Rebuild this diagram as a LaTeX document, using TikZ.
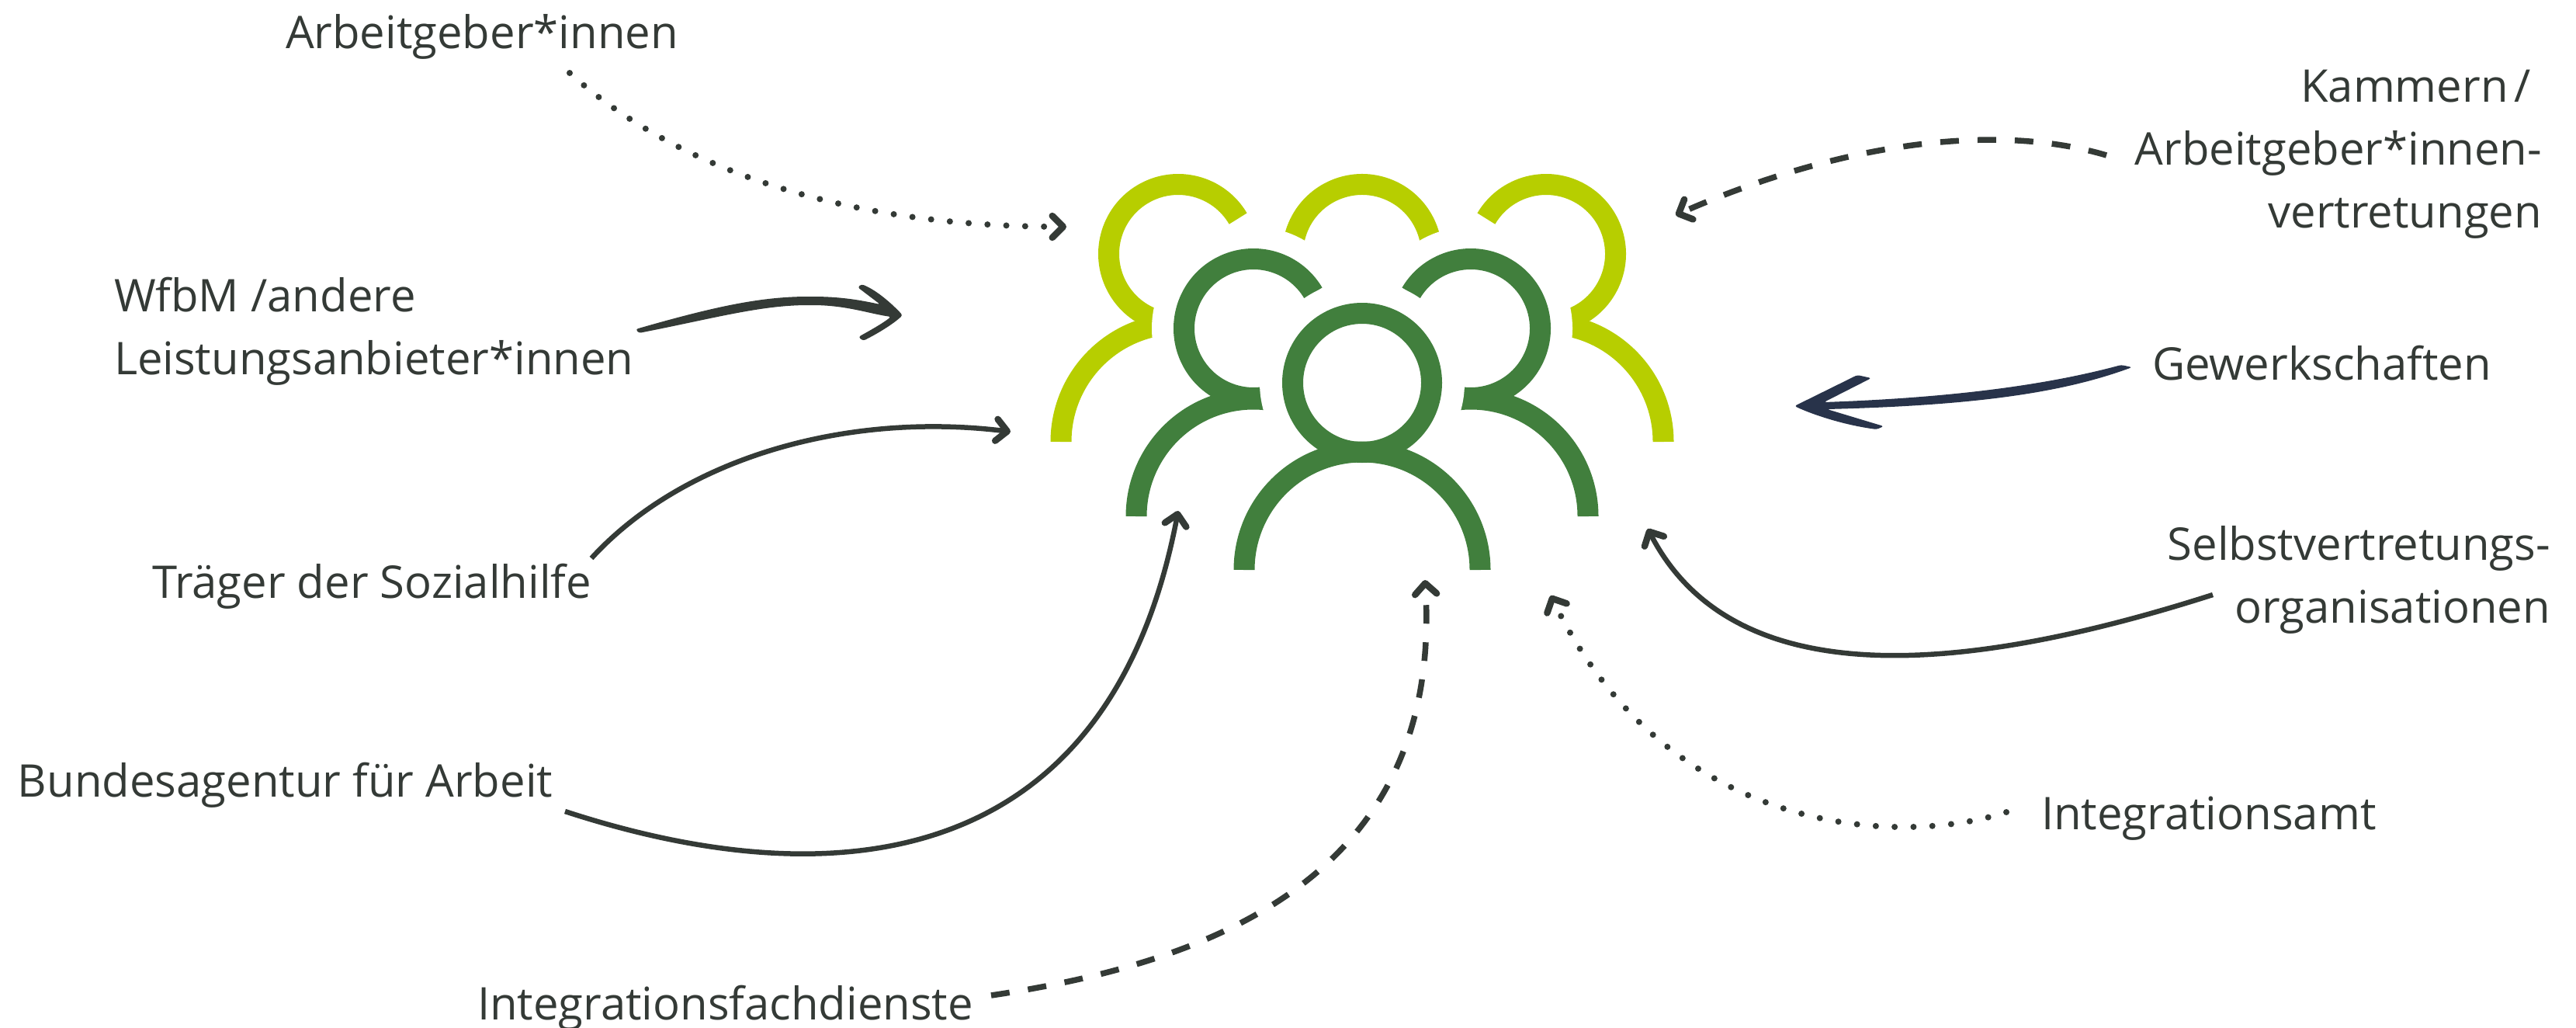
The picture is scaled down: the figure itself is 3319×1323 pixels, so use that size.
\documentclass[tikz,border=0pt]{standalone}
\usepackage{fontspec}
\setmainfont{Open Sans}
\usetikzlibrary{arrows.meta}
\definecolor{lime}{HTML}{B7CE00}
\definecolor{leaf}{HTML}{417F3D}
\definecolor{ink}{HTML}{343A36}
\definecolor{navy}{HTML}{28334A}
\tikzset{
  lbl/.style={text=ink,font=\fontsize{58}{81}\selectfont,inner sep=0pt,outer sep=0pt},
  con/.style={draw=ink,line width=6.5pt,-{Straight Barb[length=14pt,width=28pt,line width=8.5pt,round=false]}},
  dotcon/.style={con,line cap=round,dash pattern=on 0pt off 24.3pt,line width=8pt},
  dashcon/.style={con,dash pattern=on 24pt off 24pt,line width=7.5pt},
  halo/.style={fill=white,draw=none},
  ring/.style={line width=27pt}
}
\begin{document}
\begin{tikzpicture}[x=1pt,y=-1pt]
\useasboundingbox (0,0) rectangle (3319,1323);
% back row
\begin{scope}[draw=lime,ring]
\draw (1518,327) ++(30.5:89.5 and -89.5) arc[start angle=-30.5,end angle=-300,radius=89.5];
\draw (1367,569) arc[start angle=180,end angle=60,x radius=152,y radius=-152];
\draw (1755,327) ++(-20:89.5 and -89.5) arc[start angle=20,end angle=-200,radius=89.5];
\draw (1992,327) ++(149.5:89.5 and -89.5) arc[start angle=-149.5,end angle=120,radius=89.5];
\draw (2143,569) arc[start angle=0,end angle=120,x radius=152,y radius=-152];
\end{scope}
\fill[halo] (1615,423) circle[radius=131];
\fill[halo] (1895,423) circle[radius=131];
% middle row
\begin{scope}[draw=leaf,ring]
\draw (1615,423) ++(30.5:89.5 and -89.5) arc[start angle=-30.5,end angle=-300,radius=89.5];
\draw (1464,665) arc[start angle=180,end angle=60,x radius=151,y radius=-151];
\draw (1895,423) ++(149.5:89.5 and -89.5) arc[start angle=-149.5,end angle=120,radius=89.5];
\draw (2046,665) arc[start angle=0,end angle=120,x radius=151,y radius=-151];
\end{scope}
\fill[halo] (1755,493) circle[radius=132];
% front
\begin{scope}[draw=leaf,ring]
\draw (1755,493) circle[radius=89.5];
\draw (1603,734) arc[start angle=180,end angle=0,x radius=152,y radius=-152];
\end{scope}
% labels
\node[lbl,anchor=base west] (ag) at (368,62) {Arbeitgeber*innen};
\node[lbl,anchor=north east,align=right] (ka) at (3275,90) {Kammern\hspace{8pt}/\hspace*{14pt}\\Arbeitgeber*innen-\\vertretungen};
\node[lbl,anchor=north west,align=left] (wf) at (147,357) {WfbM /andere\\Leistungsanbieter*innen};
\node[lbl,anchor=base east] (ge) at (3210,489) {Gewerkschaften};
\node[lbl,anchor=base west] (tr) at (196,770) {Träger der Sozialhilfe};
\node[lbl,anchor=north east,align=right] (se) at (3286,677) {Selbstvertretungs-\\organisationen};
\node[lbl,anchor=base west] (ba) at (23,1026) {Bundesagentur für Arbeit};
\node[lbl,anchor=base west] (ia) at (2630,1068) {Integrationsamt};
\node[lbl,anchor=base west] (if) at (615,1313) {Integrationsfachdienste};
% connector ends
\coordinate (ags) at (734,94); \coordinate (age) at (1374,292);
\coordinate (kas) at (2714,200); \coordinate (kae) at (2159,277);
\coordinate (trs) at (762,719); \coordinate (tre) at (1302,556);
\coordinate (bas) at (728,1045); \coordinate (bae) at (1518,658);
\coordinate (ifs) at (1277,1282); \coordinate (ife) at (1836,747);
\coordinate (ias) at (2585,1046); \coordinate (iae) at (1998,767);
\coordinate (ses) at (2851,766); \coordinate (see) at (2123,681);
\draw[dotcon] (ags) .. controls (864,211) and (1074,292) .. (age);
\draw[dashcon] (kas) .. controls (2563,155) and (2359,189) .. (kae);
\draw[con] (trs) .. controls (880,590) and (1090,530) .. (tre);
\draw[con] (bas) .. controls (1080,1160) and (1430,1120) .. (bae);
\draw[dashcon] (ifs) .. controls (1560,1240) and (1860,1130) .. (ife);
\draw[dotcon] (ias) .. controls (2450,1090) and (2150,1080) .. (iae);
\draw[con] (ses) .. controls (2510,875) and (2230,888) .. (see);
% tapered hand-drawn arrows
\fill[ink,rounded corners=3pt] (819,424) .. controls (920,395) and (980,382) .. (1044,382) .. controls (1085,382) and (1110,387) .. (1134,392) -- (1105,370) -- (1110,366) .. controls (1130,374) and (1150,392) .. (1163,406) .. controls (1150,418) and (1130,430) .. (1112,439) -- (1106,434) .. controls (1120,426) and (1135,418) .. (1148,408) .. controls (1120,404) and (1090,393) .. (1044,393) .. controls (980,393) and (920,410) .. (823,429) -- cycle;
\fill[navy,rounded corners=3pt] (2747,473) .. controls (2660,505) and (2550,522) .. (2354,527) -- (2427,549) -- (2418,553) .. controls (2380,548) and (2340,536) .. (2312,523) -- (2393,483) -- (2411,487) -- (2350,518) .. controls (2520,512) and (2640,495) .. (2733,470) -- cycle;
\end{tikzpicture}
\end{document}
